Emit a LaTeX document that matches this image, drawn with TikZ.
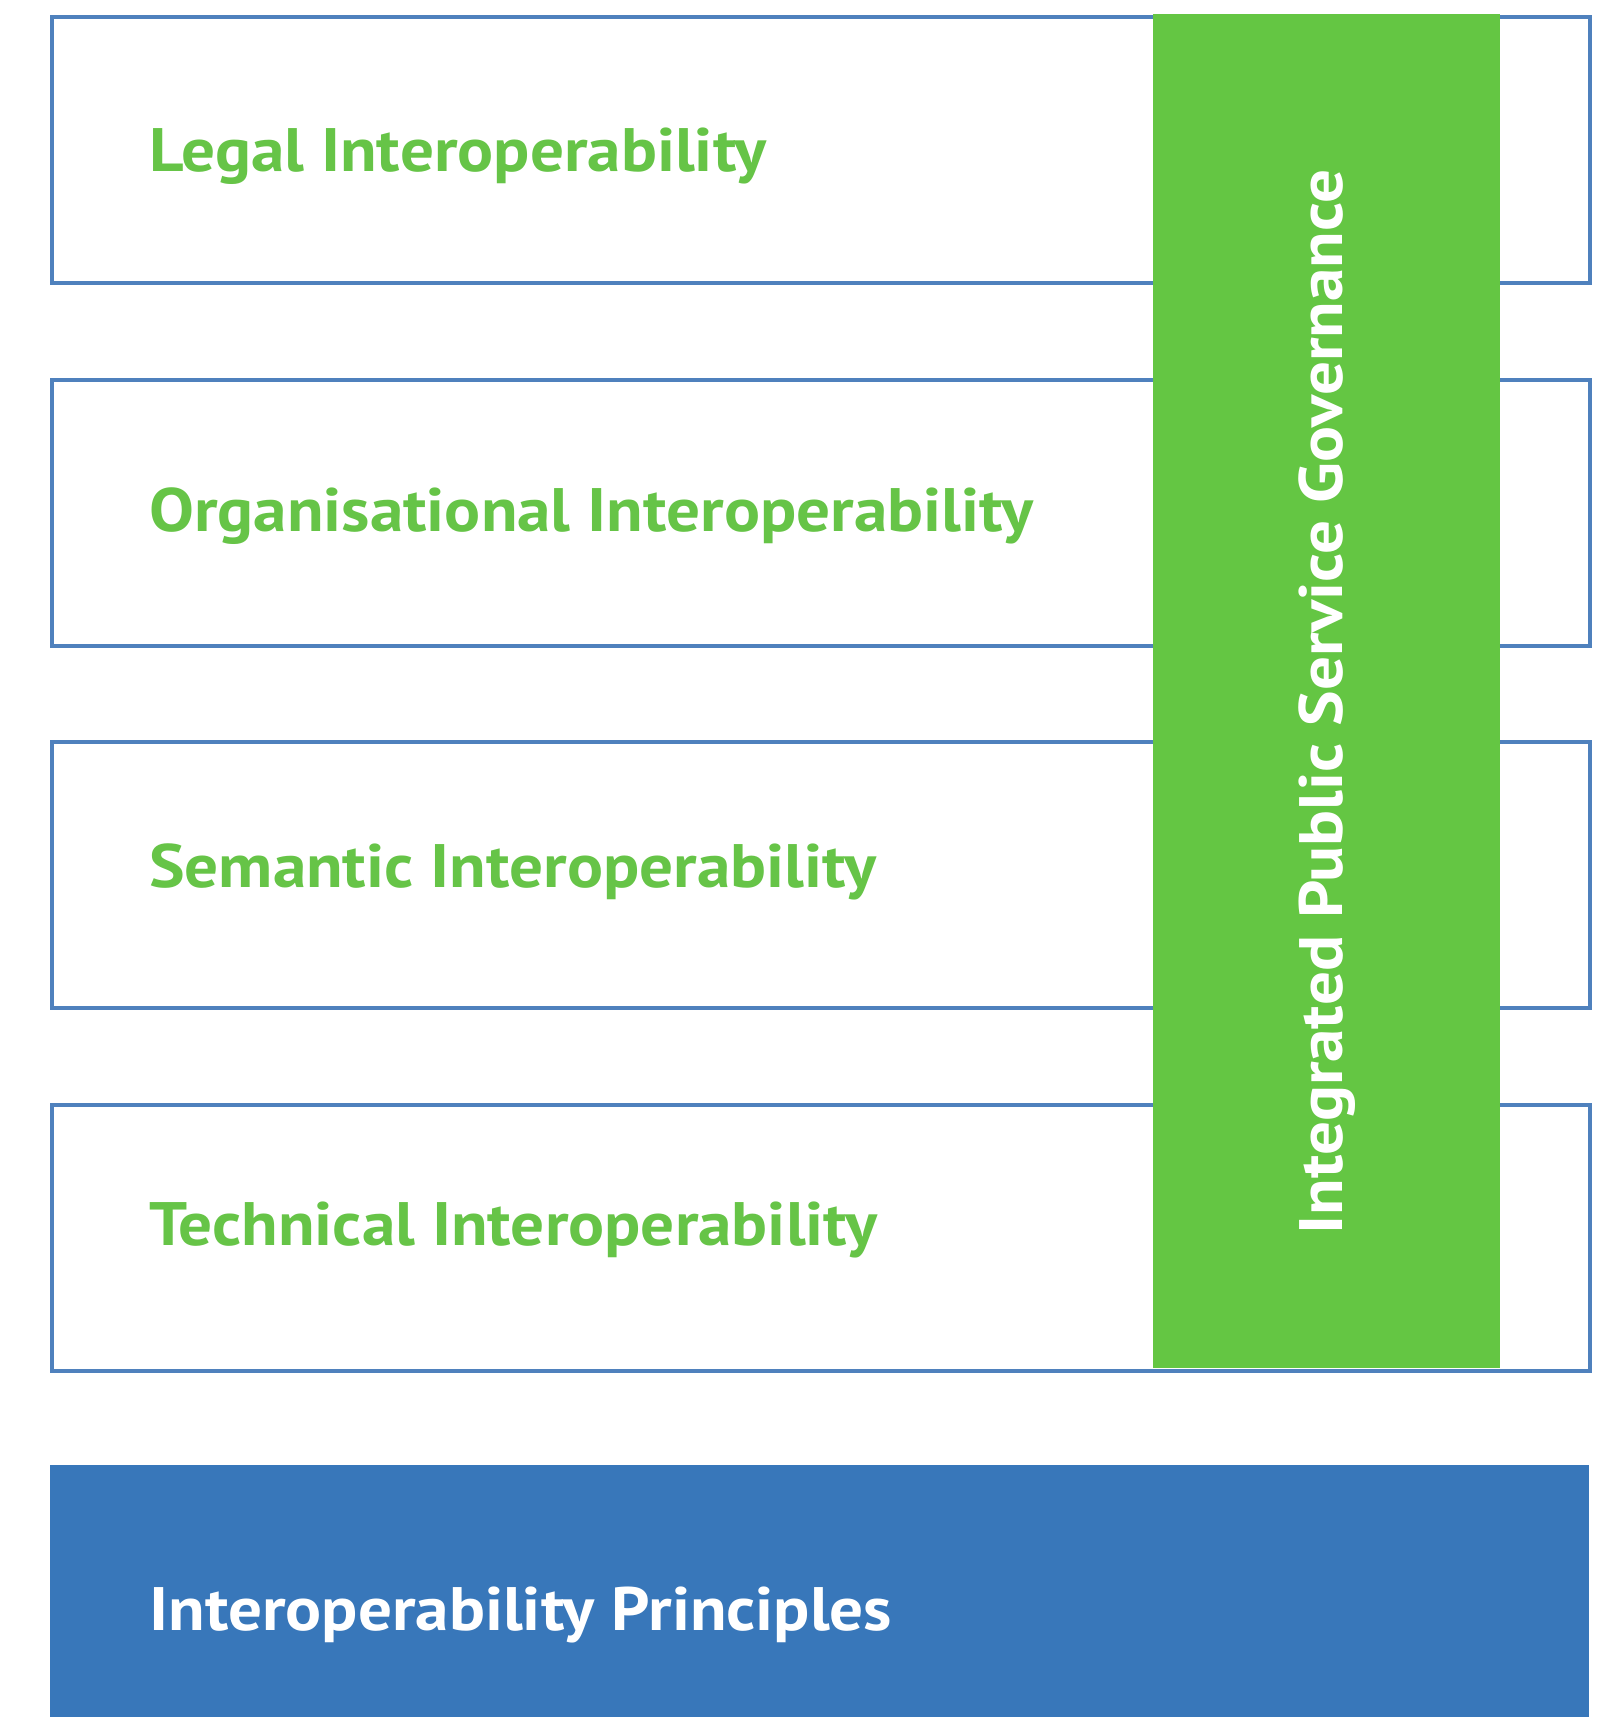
\documentclass[tikz,border=0pt]{standalone}
\usepackage{fontspec}
\setmainfont{PT Sans}
\newfontfamily\labelfont[FakeStretch=1.095]{PT Sans}
\definecolor{boxline}{HTML}{4F81BD}
\definecolor{bluefill}{HTML}{3877BA}
\definecolor{greenfill}{HTML}{64C643}
\definecolor{greentext}{HTML}{66C447}
\tikzset{
  layerbox/.style={draw=boxline, line width=2.8pt, fill=white, anchor=north west, inner sep=0pt,
    minimum width=1153.5pt, minimum height=199.5pt},
  layerlabel/.style={anchor=base west, inner sep=0pt, text=greentext, font=\labelfont\bfseries\fontsize{46}{50}\selectfont},
}
\begin{document}
\begin{tikzpicture}[x=0.75pt, y=-0.75pt]
\useasboundingbox (0,0) rectangle (1599,1717);
\fill[white] (0,0) rectangle (1599,1717);
\node[layerbox] (legal) at (50,15) {};
\node[layerbox] (org) at (50,378) {};
\node[layerbox] (sem) at (50,740) {};
\node[layerbox] (tech) at (50,1103) {};
\node[fill=greenfill, anchor=north west, inner sep=0pt, minimum width=260.25pt, minimum height=1016pt] (gov) at (1153,13.5) {};
\node[fill=bluefill, anchor=north west, inner sep=0pt, minimum width=1154.25pt, minimum height=220pt] (princ) at (50,1465) {};
\node[layerlabel] (tlegal) at (149,171) {Legal Interoperability};
\node[layerlabel] (torg) at (149,531) {Organisational Interoperability};
\node[layerlabel] (tsem) at (149,887) {Semantic Interoperability};
\node[layerlabel] (ttech) at (149,1245) {Technical Interoperability};
\node[layerlabel, text=white] (tprinc) at (149,1630) {Interoperability Principles};
\node[rotate=90, inner sep=0pt, text=white, font=\labelfont\bfseries\fontsize{46}{50}\selectfont] (tgov) at ([yshift=-8.25pt]gov.center) {Integrated Public Service Governance};
\end{tikzpicture}
\end{document}
